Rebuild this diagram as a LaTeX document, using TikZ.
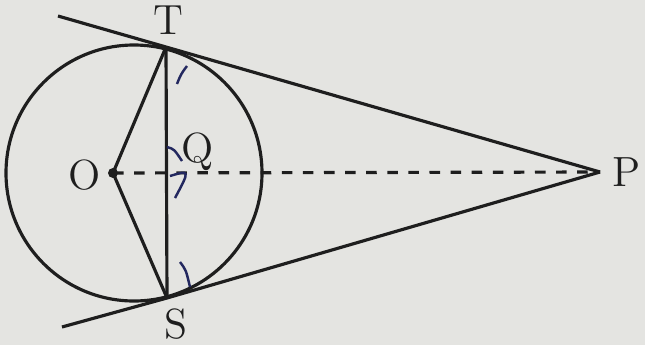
\documentclass[tikz,border=0pt]{standalone}
\usepackage{xcolor}
\usepackage{tikz}
\usetikzlibrary{calc}
\definecolor{fondPapier}{RGB}{228,228,225}
\definecolor{traitCrayon}{RGB}{30,30,30}
\definecolor{encreBleue}{RGB}{35,40,95}

\begin{document}
\begin{tikzpicture}[x=0.01cm, y=-0.01cm, font=\large,
    trait/.style={draw=traitCrayon, line width=0.9pt},
    marque/.style={draw=encreBleue, line width=0.7pt},
    lettre/.style={text=traitCrayon, inner sep=1pt}]

\fill[fondPapier] (0,0) rectangle (645,345);
\useasboundingbox (0,0) rectangle (645,345);

% points of the figure
\coordinate (C) at (134,173);
\coordinate (O) at (113,173);
\coordinate (T) at (166,47);
\coordinate (S) at (167,298);
\coordinate (P) at (600,172);
\coordinate (Q) at (166,173);
\coordinate (t1) at (58,16);
\coordinate (s1) at (62,327);

\draw[trait] (C) circle (128);

\draw[trait] (t1) -- (T) -- (P);
\draw[trait] (s1) -- (S) -- (P);
\draw[trait] (T) -- (S);
\draw[trait] (T) -- (O) -- (S);
\draw[trait, dashed] (O) -- (P);
\fill[traitCrayon] (O) circle (5);

% angle marks
\draw[marque] (177,84) .. controls (181,74) .. (187,66);
\draw[marque] (180,262) .. controls (186,270) .. (190,287);
\draw[marque] (167,147) .. controls (174,149) .. (182,161);
\draw[marque] (170,176) .. controls (190,170) .. (175,198);

\node[lettre] (lT) at (168,20) {T};
\node[lettre] (lO) at (85,175) {O};
\node[lettre] (lQ) at (198,152) {Q};
\node[lettre] (lP) at (627,172) {P};
\node[lettre] (lS) at (176,324) {S};

\end{tikzpicture}
\end{document}
